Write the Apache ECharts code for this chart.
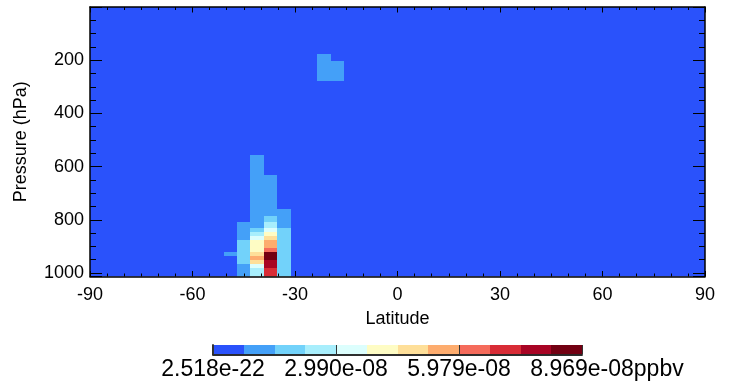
<!DOCTYPE html>
<html>
<head>
<meta charset="utf-8">
<script src="https://cdn.jsdelivr.net/npm/echarts@6/dist/echarts.min.js"></script>
<style>
    html, body { margin: 0; padding: 0; background: #fff; }
    #chart_con { width: 734px; height: 385px; }
</style>
</head>
<body>
<div id="chart_con"></div>
<script>
// latitude: 46 equal rows from -90 to 90
const latCellCount = 46;
// pressure level edges (hPa), surface upward
const pressureEdges = [1013.25, 998.05, 982.76, 967.47, 952.19, 936.91, 921.62, 906.34, 891.05, 875.77,
    860.50, 845.22, 829.95, 809.59, 784.14, 758.69, 733.24, 707.80, 682.36, 656.93,
    631.51, 606.09, 580.68, 555.28, 529.88, 504.49, 479.11, 453.74, 428.38, 403.04,
    377.71, 352.40, 327.11, 301.85, 276.62, 251.43, 226.28, 201.19, 176.93, 154.14,
    132.76, 112.95, 95.15, 78.51, 63.17, 48.44, 34.45, 21.50, 10.00, 0.01];

const valueMin = 2.518e-22;
const valueMax = 8.969e-08;

// plume columns (lat row index, first level, values upward)
const plumeLat = [10, 11, 12, 13, 14, 17, 18];
const plumeBase = [5, 0, 0, 0, 0, 34, 34];
const prof10 = [1.1e-8];
const prof11 = [1.1e-8, 1.1e-8, 1.1e-8, 1.9e-8, 1.9e-8, 1.9e-8, 1.9e-8, 1.9e-8, 1.9e-8,
    1.1e-8, 1.1e-8, 1.1e-8, 1.1e-8];
const prof12 = [2.6e-8, 2.6e-8, 3.4e-8, 4.8e-8, 5.6e-8, 4.8e-8, 4.1e-8, 4.1e-8, 4.1e-8,
    3.4e-8, 2.6e-8, 1.9e-8, 1.1e-8, 1.1e-8, 1.1e-8, 1.1e-8, 1.1e-8, 1.1e-8, 1.1e-8,
    1.1e-8, 1.1e-8, 1.1e-8, 1.1e-8];
const prof13 = [7.1e-8, 7.1e-8, 7.9e-8, 7.9e-8, 8.6e-8, 8.6e-8, 6.4e-8, 5.6e-8, 5.6e-8,
    4.9e-8, 4.1e-8, 3.4e-8, 2.6e-8, 1.9e-8, 1.1e-8, 1.1e-8, 1.1e-8, 1.1e-8, 1.1e-8, 1.1e-8];
const prof14 = [1.9e-8, 1.9e-8, 1.9e-8, 1.9e-8, 1.9e-8, 1.9e-8, 1.9e-8, 1.9e-8, 1.9e-8,
    1.9e-8, 1.9e-8, 1.9e-8, 1.1e-8, 1.1e-8, 1.1e-8];
const prof17 = [1.1e-8, 1.1e-8, 1.1e-8, 1.1e-8];
const prof18 = [1.1e-8, 1.1e-8, 1.1e-8];
const plumeProfiles = [prof10, prof11, prof12, prof13, prof14, prof17, prof18];

const colorSteps = ['#2a52fb', '#44a0f8', '#72d2fa', '#a8eefc', '#dcfefd', '#fefcc4',
    '#fedf99', '#fdac6e', '#f56b5b', '#d82c36', '#a80424', '#720012'];
const barLabels = ['2.518e-22', '2.990e-08', '5.979e-08', '8.969e-08'];
const barUnit = 'ppbv';
const yTicks = [200, 400, 600, 800, 1000];

let chart = echarts.init(document.getElementById('chart_con'));

const latStep = 180 / latCellCount;
const levCount = pressureEdges.length - 1;
const binStep = (valueMax - valueMin) / colorSteps.length;

let grid = [];
for (let i = 0; i < latCellCount; i++) {
    grid.push(new Array(levCount).fill(valueMin));
}
plumeLat.forEach(function (lat, n) {
    plumeProfiles[n].forEach(function (v, k) {
        grid[lat][plumeBase[n] + k] = v;
    });
});
let cells = [];
for (let i = 0; i < latCellCount; i++) {
    for (let k = 0; k < levCount; k++) {
        cells.push([i, k, grid[i][k]]);
    }
}

function colorOf (v) {
    let b = Math.floor((v - valueMin) / binStep);
    if (b < 0) b = 0;
    if (b > colorSteps.length - 1) b = colorSteps.length - 1;
    return colorSteps[b];
}

const font = 'Liberation Sans';
const frame = { show: true, onZero: false, lineStyle: { color: '#000', width: 1.5 } };

// half width of the last colorbar label, so the unit sits right after it
let ctx = document.createElement('canvas').getContext('2d');
ctx.font = '23px "Liberation Sans"';
const unitGap = ctx.measureText(barLabels[3]).width / 2;

const option = {
    animation: false,
    grid: [
        { left: 90, top: 7, width: 615, height: 269.5 },
        { left: 213, top: 345, width: 369, height: 9.5 }
    ],
    xAxis: [
        {
            type: 'value', gridIndex: 0, min: -90, max: 90, interval: 30, z: 10,
            name: 'Latitude', nameLocation: 'middle', nameGap: 34,
            nameTextStyle: { color: '#000', fontSize: 18, fontFamily: font },
            axisLine: frame,
            axisTick: { show: true, inside: true, length: 5.5, lineStyle: { color: '#000' } },
            minorTick: { show: true, splitNumber: 6, length: 3, lineStyle: { color: '#000' } },
            splitLine: { show: false },
            axisLabel: { color: '#000', fontSize: 18, fontFamily: font, margin: 10 }
        },
        {
            type: 'value', gridIndex: 0, position: 'top', min: -90, max: 90, interval: 30, z: 10,
            axisLine: frame,
            axisTick: { show: true, inside: true, length: 5.5, lineStyle: { color: '#000' } },
            minorTick: { show: true, splitNumber: 6, length: 3, lineStyle: { color: '#000' } },
            splitLine: { show: false },
            axisLabel: { show: false }
        },
        {
            type: 'value', gridIndex: 1, min: 0, max: 12, interval: 4, z: 10,
            name: barUnit, nameLocation: 'end', nameGap: unitGap, nameMoveOverlap: false,
            nameTextStyle: {
                color: '#000', fontSize: 23, fontFamily: font,
                align: 'left', verticalAlign: 'top', padding: [4, 0, 0, 0]
            },
            axisLine: { show: true, lineStyle: { color: '#222', width: 1.5 } },
            axisTick: { show: true, inside: true, length: 9.5, lineStyle: { color: '#333' } },
            splitLine: { show: false },
            axisLabel: {
                color: '#000', fontSize: 23, fontFamily: font, margin: 4,
                showMinLabel: true, showMaxLabel: true,
                formatter: function (v) { return barLabels[Math.round(v / 4)]; }
            }
        },
        {
            type: 'value', gridIndex: 1, position: 'top', min: 0, max: 12, z: 10,
            axisLine: { show: true, lineStyle: { color: '#222', width: 1.5 } },
            axisTick: { show: false }, splitLine: { show: false }, axisLabel: { show: false }
        }
    ],
    yAxis: [
        {
            type: 'value', gridIndex: 0, min: 0, max: 1013.25, interval: 200, inverse: true, z: 10,
            name: 'Pressure (hPa)', nameLocation: 'middle', nameGap: 60, nameRotate: 90,
            nameTextStyle: { color: '#000', fontSize: 18, fontFamily: font },
            axisLine: frame,
            axisTick: { show: true, inside: true, length: 12, lineStyle: { color: '#000' } },
            minorTick: { show: true, splitNumber: 4, length: 6, lineStyle: { color: '#000' } },
            splitLine: { show: false },
            axisLabel: {
                color: '#000', fontSize: 18, fontFamily: font, margin: 6,
                formatter: function (v) { return yTicks.indexOf(v) >= 0 ? String(v) : ''; }
            }
        },
        {
            type: 'value', gridIndex: 0, position: 'right', min: 0, max: 1013.25, interval: 200, inverse: true, z: 10,
            axisLine: frame,
            axisTick: { show: true, inside: true, length: 12, lineStyle: { color: '#000' } },
            minorTick: { show: true, splitNumber: 4, length: 6, lineStyle: { color: '#000' } },
            splitLine: { show: false },
            axisLabel: { show: false }
        },
        {
            type: 'value', gridIndex: 1, min: 0, max: 1, z: 10,
            axisLine: { show: true, lineStyle: { color: '#222', width: 1.5 } },
            axisTick: { show: false }, splitLine: { show: false }, axisLabel: { show: false }
        },
        {
            type: 'value', gridIndex: 1, position: 'right', min: 0, max: 1, z: 10,
            axisLine: { show: true, lineStyle: { color: '#222', width: 1.5 } },
            axisTick: { show: false }, splitLine: { show: false }, axisLabel: { show: false }
        }
    ],
    series: [
        {
            type: 'custom',
            xAxisIndex: 0, yAxisIndex: 0,
            clip: true,
            data: cells,
            encode: { x: -1, y: -1 },
            renderItem: function (params, api) {
                let i = api.value(0), k = api.value(1);
                let lat0 = -90 + i * latStep, lat1 = lat0 + latStep;
                let p0 = api.coord([lat0, pressureEdges[k]]);
                let p1 = api.coord([lat1, pressureEdges[k + 1]]);
                let x0 = Math.round(Math.min(p0[0], p1[0])), x1 = Math.round(Math.max(p0[0], p1[0]));
                let y0 = Math.round(Math.min(p0[1], p1[1])), y1 = Math.round(Math.max(p0[1], p1[1]));
                return {
                    type: 'rect',
                    shape: { x: x0, y: y0, width: x1 - x0, height: y1 - y0 },
                    style: { fill: colorOf(api.value(2)) }
                };
            }
        },
        {
            type: 'custom',
            xAxisIndex: 2, yAxisIndex: 2,
            data: colorSteps.map(function (c, b) { return [b, valueMin + b * binStep]; }),
            encode: { x: -1, y: -1 },
            renderItem: function (params, api) {
                let b = api.value(0);
                let a = api.coord([b, 1]);
                let z = api.coord([b + 1, 0]);
                let x0 = Math.round(a[0]), x1 = Math.round(z[0]);
                return {
                    type: 'rect',
                    shape: { x: x0, y: a[1], width: x1 - x0, height: z[1] - a[1] },
                    style: { fill: colorOf(api.value(1) + binStep / 2) }
                };
            }
        }
    ]
};

chart.setOption(option);

window.addEventListener('resize', function () {
    chart.resize();
});
</script>
</body>
</html>
